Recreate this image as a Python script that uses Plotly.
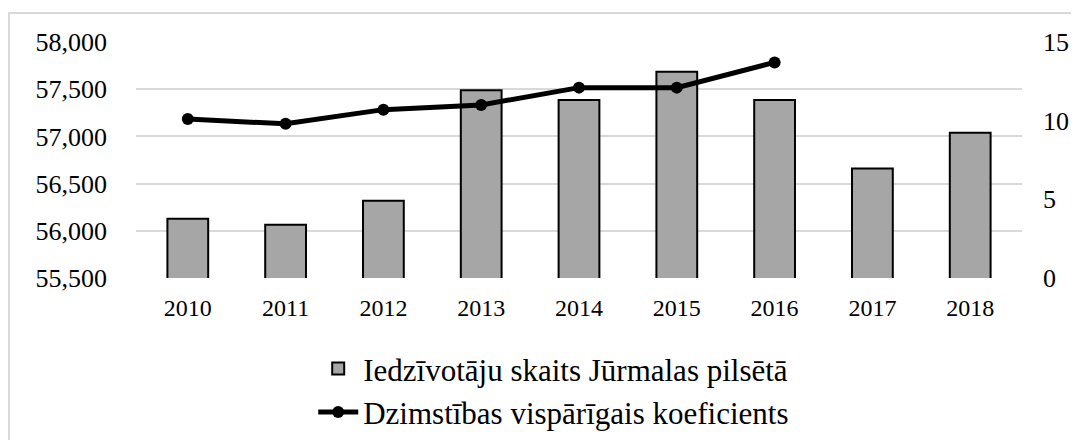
import plotly.graph_objects as go

years = ["2010", "2011", "2012", "2013", "2014", "2015", "2016", "2017", "2018"]
population = [56128, 56064, 56319, 57490, 57386, 57684, 57386, 56660, 57039]
birth_rate = [10.1, 9.8, 10.7, 11.0, 12.1, 12.1, 13.7, None, None]

bar_name = "Iedzīvotāju skaits Jūrmalas pilsētā"
line_name = "Dzimstības vispārīgais koeficients"

FONT = "Liberation Serif"

fig = go.Figure()
fig.add_trace(go.Bar(
    x=years, y=population, name=bar_name,
    marker=dict(color="#a6a6a6", line=dict(color="black", width=2)),
))
fig.add_trace(go.Scatter(
    x=years, y=birth_rate, name=line_name, yaxis="y2",
    mode="lines+markers",
    line=dict(color="black", width=5),
    marker=dict(color="black", size=12),
))

# page body has an 8px margin, so the figure is sized to fit inside it
fig.update_layout(
    width=1063, height=432,
    margin=dict(l=128, r=49, t=34, b=162),
    paper_bgcolor="white", plot_bgcolor="white",
    font=dict(family=FONT, size=26, color="black"),
    bargap=0.583,
    showlegend=True,
    legend=dict(orientation="v", x=0.2, xanchor="left",
                yref="container", y=0.227, yanchor="top",
                font=dict(family=FONT, size=31, color="black"),
                itemwidth=40, tracegroupgap=2),
    xaxis=dict(showgrid=False, showline=False, ticks="", tickfont=dict(family=FONT, size=24),
               ticklabelstandoff=13, automargin=False),
    yaxis=dict(range=[55500, 58000], dtick=500, tickformat=",", showgrid=True,
               gridcolor="#d9d9d9", gridwidth=1.5, zeroline=False, ticks="",
               tickfont=dict(family=FONT, size=26), ticklabelstandoff=28, automargin=False),
    yaxis2=dict(range=[0, 15], dtick=5, overlaying="y", side="right", showgrid=False,
                zeroline=False, ticks="", tickfont=dict(family=FONT, size=26),
                ticklabelstandoff=20, automargin=False),
    shapes=[dict(type="rect", xref="paper", yref="paper", x0=-0.1433, x1=1.2,
                 y0=1.123, y1=-1.0, line=dict(color="#d9d9d9", width=2),
                 layer="below")],
)

fig.write_html("out.html")
